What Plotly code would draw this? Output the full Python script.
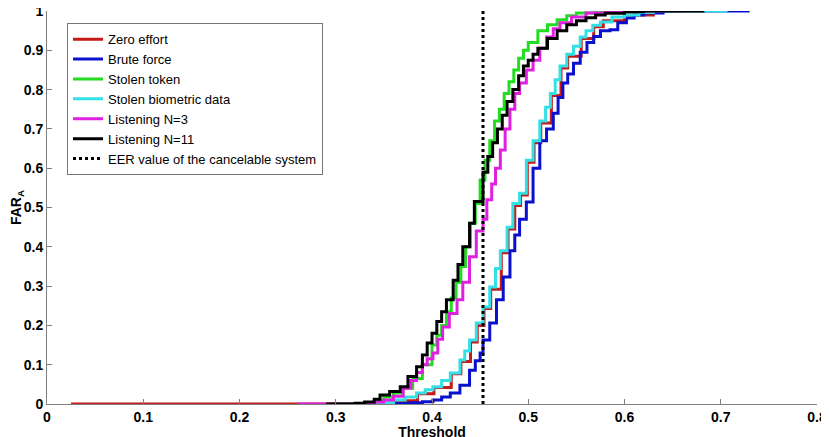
import plotly.graph_objects as go

# ---- data ----
zero_x = [0.025, 0.33, 0.36, 0.385, 0.402, 0.42, 0.43, 0.44, 0.447, 0.454, 0.461, 0.472, 0.479, 0.486, 0.492,
          0.499, 0.506, 0.513, 0.524, 0.534, 0.541, 0.555, 0.568, 0.578, 0.60, 0.63, 0.66]
zero_y = [0.0, 0.002, 0.008, 0.026, 0.042, 0.077, 0.108, 0.158, 0.20, 0.243, 0.292, 0.385, 0.445, 0.505, 0.532,
          0.615, 0.665, 0.715, 0.785, 0.855, 0.885, 0.93, 0.96, 0.975, 0.99, 1.0, 1.0]

brute_x = [0.33, 0.36, 0.377, 0.39, 0.401, 0.41, 0.419, 0.429, 0.439, 0.445, 0.45, 0.453, 0.46, 0.467, 0.474,
           0.481, 0.486, 0.491, 0.498, 0.505, 0.512, 0.519, 0.526, 0.531, 0.536, 0.541, 0.547, 0.554, 0.561,
           0.568, 0.575, 0.585, 0.593, 0.602, 0.61, 0.62, 0.64, 0.73]
brute_y = [0.0, 0.001, 0.003, 0.006, 0.01, 0.018, 0.028, 0.048, 0.086, 0.11, 0.13, 0.163, 0.206, 0.265, 0.323,
           0.39, 0.43, 0.47, 0.514, 0.60, 0.67, 0.70, 0.74, 0.78, 0.817, 0.84, 0.867, 0.895, 0.92,
           0.935, 0.95, 0.952, 0.97, 0.982, 0.99, 0.995, 1.0, 1.0]

token_x = [0.30, 0.33, 0.34, 0.35, 0.36, 0.37, 0.38, 0.39, 0.40, 0.405, 0.41, 0.415, 0.42, 0.425, 0.43, 0.435,
           0.44, 0.445, 0.45, 0.455, 0.46, 0.465, 0.47, 0.475, 0.48, 0.485, 0.49, 0.495, 0.50, 0.51, 0.52,
           0.53, 0.54, 0.55, 0.57, 0.60]
token_y = [0.0, 0.003, 0.008, 0.018, 0.028, 0.04, 0.065, 0.10, 0.15, 0.175, 0.20, 0.235, 0.27, 0.31, 0.35, 0.40,
           0.46, 0.51, 0.57, 0.62, 0.67, 0.72, 0.75, 0.79, 0.82, 0.85, 0.88, 0.90, 0.92, 0.95, 0.965,
           0.978, 0.988, 0.995, 1.0, 1.0]

bio_x = [0.31, 0.34, 0.36, 0.372, 0.384, 0.393, 0.401, 0.41, 0.419, 0.429, 0.434, 0.439, 0.446, 0.453, 0.46,
         0.466, 0.471, 0.478, 0.484, 0.491, 0.498, 0.505, 0.512, 0.518, 0.523, 0.528, 0.533, 0.54, 0.547,
         0.554, 0.56, 0.567, 0.575, 0.587, 0.60, 0.615, 0.63, 0.707]
bio_y = [0.0, 0.003, 0.01, 0.018, 0.028, 0.036, 0.044, 0.06, 0.079, 0.112, 0.135, 0.163, 0.206, 0.247, 0.298,
         0.345, 0.39, 0.45, 0.51, 0.536, 0.62, 0.67, 0.72, 0.755, 0.79, 0.825, 0.86, 0.89, 0.91,
         0.934, 0.95, 0.964, 0.972, 0.985, 0.99, 0.996, 1.0, 1.0]

n3_x = [0.26, 0.33, 0.34, 0.35, 0.36, 0.37, 0.378, 0.384, 0.39, 0.395, 0.401, 0.406, 0.411, 0.418, 0.426,
        0.432, 0.439, 0.446, 0.453, 0.457, 0.462, 0.466, 0.471, 0.476, 0.481, 0.486, 0.491, 0.498, 0.505,
        0.512, 0.519, 0.526, 0.533, 0.545, 0.56, 0.58, 0.64]
n3_y = [0.0, 0.002, 0.005, 0.01, 0.02, 0.04, 0.06, 0.08, 0.10, 0.115, 0.13, 0.165, 0.196, 0.23, 0.265,
        0.31, 0.375, 0.44, 0.47, 0.52, 0.56, 0.60, 0.646, 0.70, 0.75, 0.79, 0.817, 0.85, 0.875,
        0.905, 0.934, 0.955, 0.97, 0.985, 0.995, 1.0, 1.0]

n11_x = [0.29, 0.32, 0.33, 0.34, 0.346, 0.356, 0.367, 0.375, 0.384, 0.39, 0.395, 0.40, 0.405, 0.41, 0.415,
         0.422, 0.427, 0.432, 0.439, 0.444, 0.453, 0.458, 0.463, 0.468, 0.473, 0.478, 0.484, 0.49, 0.495,
         0.50, 0.505, 0.51, 0.52, 0.53, 0.54, 0.55, 0.56, 0.57, 0.58, 0.60, 0.62, 0.683]
n11_y = [0.0, 0.002, 0.005, 0.012, 0.023, 0.032, 0.044, 0.07, 0.095, 0.125, 0.155, 0.18, 0.21, 0.235, 0.265,
         0.315, 0.355, 0.40, 0.46, 0.515, 0.59, 0.63, 0.665, 0.70, 0.735, 0.77, 0.80, 0.835, 0.86,
         0.875, 0.89, 0.905, 0.93, 0.95, 0.965, 0.975, 0.983, 0.99, 0.994, 0.998, 1.0, 1.0]

eer_x = [0.453, 0.453]
eer_y = [0.0, 1.0]

x_ticks = [0, 0.1, 0.2, 0.3, 0.4, 0.5, 0.6, 0.7, 0.8]
x_labels = ["0", "0.1", "0.2", "0.3", "0.4", "0.5", "0.6", "0.7", "0.8"]
y_ticks = [0, 0.1, 0.2, 0.3, 0.4, 0.5, 0.6, 0.7, 0.8, 0.9, 1]
y_labels = ["0", "0.1", "0.2", "0.3", "0.4", "0.5", "0.6", "0.7", "0.8", "0.9", "1"]

series = [
    ("Zero effort", zero_x, zero_y, "#c41a1a"),
    ("Brute force", brute_x, brute_y, "#0a10cc"),
    ("Stolen token", token_x, token_y, "#22dd22"),
    ("Stolen biometric data", bio_x, bio_y, "#33e0e6"),
    ("Listening N=3", n3_x, n3_y, "#e020e0"),
    ("Listening N=11", n11_x, n11_y, "#000000"),
]

FONT = "Arial, Liberation Sans, sans-serif"

fig = go.Figure()
for name, xs, ys, col in series:
    fig.add_trace(go.Scatter(x=xs, y=ys, mode="lines", name=name,
                             line=dict(color=col, width=3, shape="hv")))
fig.add_trace(go.Scatter(x=eer_x, y=eer_y, mode="lines", name="EER value of the cancelable system",
                         line=dict(color="black", width=3, dash="dot")))

# the page body has an 8px margin, so the figure is sized/offset to compensate
fig.update_layout(
    width=821, height=432,
    margin=dict(l=39, r=12, t=3, b=36),
    paper_bgcolor="white", plot_bgcolor="white",
    font=dict(family=FONT, size=13, color="black"),
    showlegend=True,
    legend=dict(x=0.026, y=0.969, xanchor="left", yanchor="top",
                bgcolor="white", bordercolor="#777777", borderwidth=1,
                font=dict(family=FONT, size=13, color="black"),
                itemwidth=30, tracegroupgap=0),
)
fig.update_xaxes(range=[0, 0.8], tickvals=x_ticks, ticktext=x_labels,
                 showgrid=False, zeroline=False, showline=True, linecolor="#808080", linewidth=1,
                 ticks="inside", ticklen=5, tickcolor="#808080", ticklabeloverflow="allow",
                 tickfont=dict(family=FONT, size=14, weight="bold"),
                 title=dict(text="Threshold", font=dict(family=FONT, size=14, weight="bold"), standoff=4),
                 automargin=False)
fig.update_yaxes(range=[0, 1], tickvals=y_ticks, ticktext=y_labels,
                 showgrid=False, zeroline=False, showline=True, linecolor="#808080", linewidth=1,
                 ticks="inside", ticklen=5, tickcolor="#808080", ticklabeloverflow="allow",
                 tickfont=dict(family=FONT, size=14, weight="bold"),
                 title=dict(text="FAR<sub>A</sub>", font=dict(family=FONT, size=14, weight="bold"), standoff=3),
                 automargin=False)

fig.write_html("out.html")
